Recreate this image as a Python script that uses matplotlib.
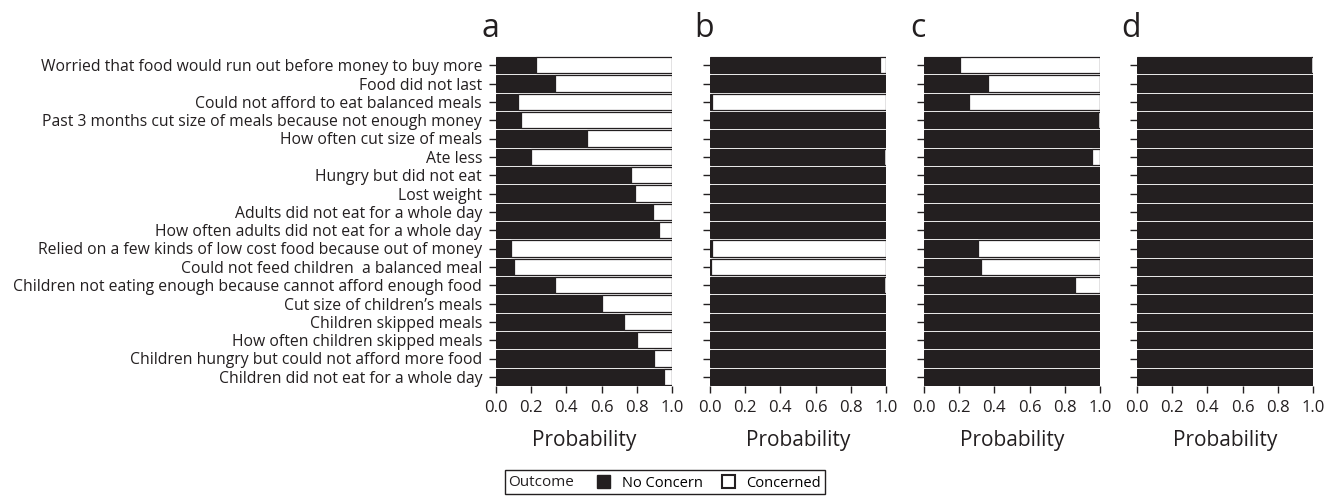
import numpy as np
import matplotlib
matplotlib.use("Agg")
import matplotlib.pyplot as plt
from matplotlib.patches import Patch, Rectangle

plt.rcParams['font.family'] = ['Open Sans', 'DejaVu Sans']

# questions, top to bottom
items = [
    "Worried that food would run out before money to buy more",
    "Food did not last",
    "Could not afford to eat balanced meals",
    "Past 3 months cut size of meals because not enough money",
    "How often cut size of meals",
    "Ate less",
    "Hungry but did not eat",
    "Lost weight",
    "Adults did not eat for a whole day",
    "How often adults did not eat for a whole day",
    "Relied on a few kinds of low cost food because out of money",
    "Could not feed children  a balanced meal",
    "Children not eating enough because cannot afford enough food",
    "Cut size of children\u2019s meals",
    "Children skipped meals",
    "How often children skipped meals",
    "Children hungry but could not afford more food",
    "Children did not eat for a whole day",
]

# probability of "No Concern" per panel (same order as items)
p_a = [0.23, 0.335, 0.125, 0.142, 0.518, 0.20, 0.766, 0.788, 0.89, 0.926,
       0.085, 0.102, 0.338, 0.605, 0.728, 0.80, 0.90, 0.955]
p_b = [0.964, 0.997, 0.01, 0.998, 1.0, 0.99, 0.998, 1.0, 0.999, 1.0,
       0.01, 0.005, 0.99, 1.0, 1.0, 1.0, 1.0, 1.0]
p_c = [0.205, 0.366, 0.258, 0.987, 0.998, 0.955, 1.0, 1.0, 1.0, 1.0,
       0.307, 0.326, 0.86, 1.0, 1.0, 1.0, 1.0, 1.0]
p_d = [0.99, 1.0, 1.0, 1.0, 1.0, 1.0, 1.0, 1.0, 1.0, 1.0,
       1.0, 1.0, 1.0, 1.0, 1.0, 1.0, 1.0, 1.0]

panels = ['a', 'b', 'c', 'd']
probs = [p_a, p_b, p_c, p_d]
xticks = [0.0, 0.2, 0.4, 0.6, 0.8, 1.0]

dark = '#231f20'
W, H = 1337, 496
fig = plt.figure(figsize=(W / 100, H / 100), dpi=100)

lefts = [496, 710, 924, 1137]
ax_w = 176
top_px, bot_px = 56, 386

y = np.arange(len(items))
for k, (name, p) in enumerate(zip(panels, probs)):
    ax = fig.add_axes([lefts[k] / W, 1 - bot_px / H, ax_w / W, (bot_px - top_px) / H])
    p = np.array(p)
    ax.barh(y, p, height=0.9, color=dark, edgecolor=dark, linewidth=0.8)
    ax.barh(y, 1 - p, left=p, height=0.9, color='white', edgecolor=dark, linewidth=0.9)
    ax.set_ylim(len(items) - 0.5, -0.5)
    ax.set_xlim(0, 1)
    for s in ax.spines.values():
        s.set_visible(False)
    ax.set_yticks(y)
    if k == 0:
        ax.set_yticklabels(items, fontsize=11.3, color=dark)
    else:
        ax.set_yticklabels([])
    ax.set_xticks(xticks)
    ax.set_xticklabels([f"{t:.1f}" for t in xticks], fontsize=12, color=dark)
    ax.tick_params(axis='both', length=5, width=1, color=dark)
    ax.tick_params(axis='y', pad=5)
    ax.tick_params(axis='x', pad=5)
    ax.set_xlabel("Probability", fontsize=15, color=dark, labelpad=10)
    fig.text((lefts[k] - 6) / W, 1 - 37 / H, name, fontsize=23, color=dark,
             ha='center', va='baseline')

# legend box at the bottom
box = Rectangle((505 / W, 1 - 494 / H), 320 / W, 24 / H, transform=fig.transFigure,
                fill=False, edgecolor=dark, linewidth=1)
fig.add_artist(box)
fig.text(508 / W, 1 - 483 / H, "Outcome", fontsize=11, color=dark, va='center')
handles = [Patch(facecolor=dark, edgecolor=dark), Patch(facecolor='white', edgecolor=dark, linewidth=1.5)]
fig.legend(handles, ["No Concern", "Concerned"], ncol=2, frameon=False,
           loc='center left', bbox_to_anchor=(597 / W, 1 - 483 / H),
           fontsize=10.5, handlelength=0.9, handleheight=0.9, handletextpad=0.8,
           columnspacing=1.3, borderpad=0, borderaxespad=0)

fig.savefig("out.png", dpi=100)
